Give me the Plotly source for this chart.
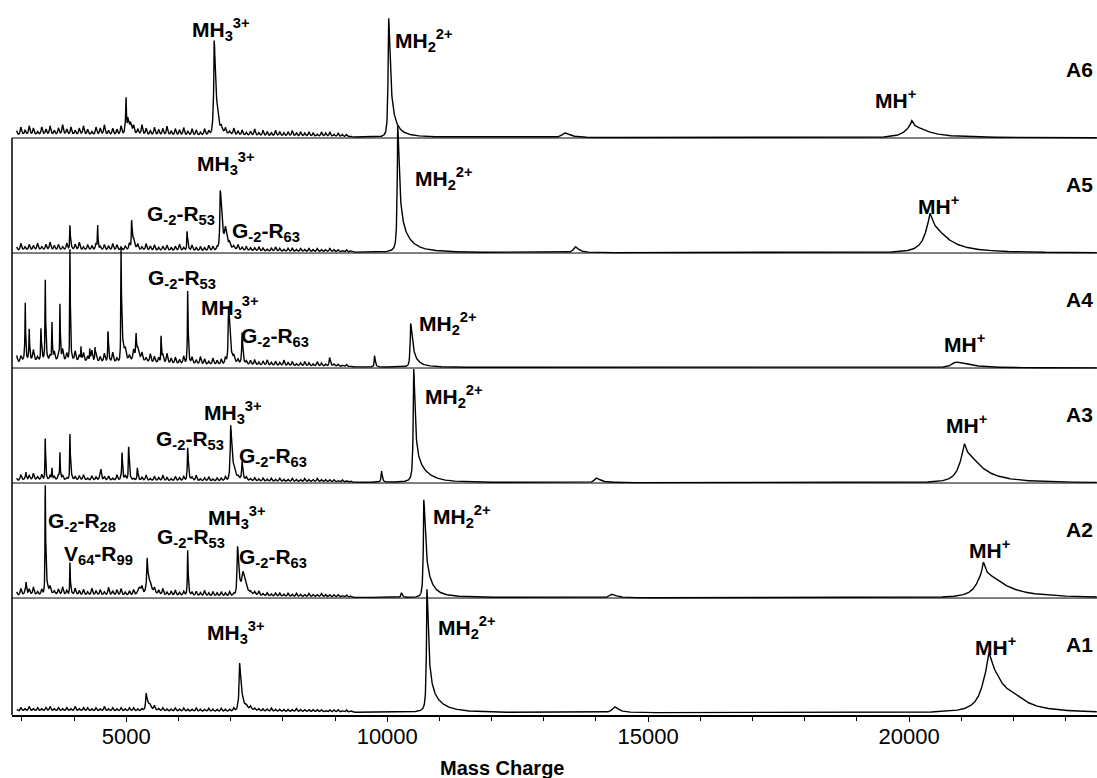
import numpy as np
import plotly.graph_objects as go

# ---------------- data ----------------
labels = ["A1", "A2", "A3", "A4", "A5", "A6"]

# peaks: (centre m/z, height in panel units, left HWHM, right HWHM)
# a component with a tiny left width is the high-mass tail of the peak at that centre
peaks_A1 = [(3000, 0.015, 100, 5000),
            (5380, 0.11, 10, 20), (5420, 0.05, 30, 60),
            (7170, 0.33, 14, 26), (7170, 0.09, 2, 100),
            (10760, 0.78, 14, 30), (10760, 0.27, 2, 110), (10900, 0.05, 120, 300),
            (14350, 0.05, 50, 100),
            (21530, 0.11, 25, 40), (21530, 0.40, 150, 300), (21980, 0.06, 150, 350)]
peaks_A2 = [(3000, 0.02, 100, 4000),
            (3080, 0.10, 8, 12), (3446, 0.86, 5, 8), (3446, 0.12, 2, 40),
            (3920, 0.27, 5, 8), (5250, 0.06, 20, 40), (5400, 0.26, 8, 14),
            (5430, 0.10, 30, 60), (6176, 0.35, 6, 10),
            (7130, 0.33, 12, 24), (7130, 0.08, 2, 100), (7240, 0.15, 20, 50),
            (10270, 0.04, 10, 20), (10700, 0.62, 14, 34), (10700, 0.23, 2, 140),
            (14300, 0.03, 50, 100),
            (21420, 0.10, 20, 40), (21420, 0.21, 150, 450)]
peaks_A3 = [(3000, 0.02, 100, 4000),
            (3076, 0.06, 6, 10), (3446, 0.37, 5, 8), (3575, 0.10, 5, 8),
            (3728, 0.23, 5, 8), (3920, 0.38, 5, 8), (4515, 0.07, 6, 10),
            (4918, 0.24, 6, 10), (5045, 0.27, 6, 10), (5211, 0.08, 6, 10),
            (6176, 0.27, 8, 15), (7000, 0.38, 12, 24), (7000, 0.10, 2, 80),
            (7219, 0.12, 8, 15), (9890, 0.10, 10, 15),
            (10506, 0.72, 14, 28), (10506, 0.25, 2, 100), (10650, 0.06, 100, 250),
            (14000, 0.04, 40, 100),
            (21060, 0.08, 20, 30), (21060, 0.26, 120, 350)]
peaks_A4 = [(3000, 0.05, 100, 3000),
            (3063, 0.43, 5, 8), (3139, 0.22, 5, 8), (3364, 0.25, 5, 8),
            (3446, 0.69, 5, 8), (3575, 0.33, 5, 8), (3728, 0.48, 5, 8),
            (3920, 0.96, 5, 8), (4131, 0.12, 5, 8), (4300, 0.10, 5, 8),
            (4400, 0.10, 5, 8), (4649, 0.24, 5, 8), (4898, 0.70, 5, 8),
            (4898, 0.28, 2, 40), (5186, 0.18, 6, 10), (5195, 0.07, 40, 80),
            (5666, 0.24, 5, 8), (6176, 0.59, 6, 10),
            (6960, 0.40, 12, 24), (6960, 0.10, 2, 60), (7219, 0.22, 8, 15),
            (8894, 0.05, 10, 20), (9757, 0.10, 8, 15),
            (10448, 0.28, 14, 36), (10448, 0.10, 2, 120),
            (20900, 0.05, 100, 300)]
peaks_A5 = [(3000, 0.02, 100, 4000),
            (3920, 0.20, 5, 8), (4450, 0.22, 5, 8), (5102, 0.24, 6, 10),
            (5130, 0.06, 20, 40), (6164, 0.15, 6, 10),
            (6800, 0.40, 12, 26), (6800, 0.11, 2, 80), (6900, 0.12, 20, 40),
            (10200, 0.80, 14, 32), (10200, 0.27, 2, 100), (10300, 0.08, 80, 250),
            (13600, 0.05, 40, 80),
            (20400, 0.10, 30, 40), (20400, 0.24, 130, 350)]
peaks_A6 = [(3000, 0.02, 100, 5000),
            (4994, 0.30, 6, 10), (5030, 0.12, 10, 20), (5080, 0.08, 10, 30),
            (6684, 0.65, 12, 26), (6684, 0.16, 2, 70),
            (10025, 0.80, 14, 34), (10025, 0.24, 2, 120),
            (13400, 0.04, 60, 120),
            (20050, 0.05, 20, 30), (20050, 0.10, 150, 350)]

# baseline noise: heights (hundredths of a panel) on an 80-Da grid starting at 2900
noise_start, noise_step = 2900, 80
noise_A1 = [2, 3, 2, 4, 2, 3, 2, 3, 4, 2, 3, 2, 3, 2, 4, 2, 3, 3, 2, 3,
            2, 4, 2, 3, 2, 3, 2, 3, 3, 2, 2, 3, 2, 4, 2, 3, 2, 2, 3, 2,
            3, 2, 2, 3, 2, 2, 3, 2, 2, 3, 2, 2, 3, 2, 2, 2, 3, 2, 2, 2,
            2, 3, 2, 2, 2, 2, 2, 3, 2, 2, 2, 2, 2, 2, 1, 2, 2, 2, 1, 2, 1]
noise_A2 = [4, 6, 3, 5, 7, 3, 5, 4, 6, 3, 5, 7, 4, 3, 6, 4, 5, 3, 6, 4,
            5, 3, 7, 4, 5, 6, 3, 4, 5, 3, 6, 4, 3, 5, 4, 6, 3, 4, 5, 3,
            4, 5, 3, 4, 3, 5, 3, 4, 3, 4, 3, 4, 2, 3, 4, 3, 2, 3, 4, 2,
            3, 2, 3, 3, 2, 3, 2, 3, 2, 2, 3, 2, 2, 3, 2, 2, 2, 2, 1, 2, 1]
noise_A3 = [3, 5, 2, 4, 6, 3, 5, 2, 4, 3, 5, 4, 2, 6, 3, 4, 5, 2, 4, 3,
            6, 3, 4, 2, 5, 3, 4, 6, 2, 4, 3, 5, 2, 4, 3, 5, 3, 2, 4, 3,
            4, 2, 3, 5, 2, 3, 4, 2, 3, 3, 4, 2, 3, 2, 4, 3, 2, 3, 2, 3,
            2, 3, 2, 3, 2, 2, 3, 2, 2, 3, 2, 2, 3, 2, 2, 2, 2, 1, 2, 1, 1]
noise_A4 = [8, 5, 9, 6, 10, 4, 7, 9, 5, 8, 6, 10, 7, 4, 9, 6, 8, 5, 10, 7,
            5, 8, 6, 9, 4, 7, 8, 5, 9, 6, 7, 4, 8, 6, 5, 7, 9, 5, 6, 4,
            7, 5, 6, 4, 7, 5, 3, 6, 4, 5, 6, 3, 5, 4, 6, 3, 4, 5, 3, 4,
            5, 3, 4, 3, 5, 3, 4, 2, 3, 4, 3, 2, 4, 3, 2, 3, 2, 2, 1, 2, 1]
noise_A5 = [4, 6, 3, 5, 4, 6, 3, 5, 7, 4, 5, 3, 6, 4, 5, 7, 3, 5, 4, 6,
            3, 5, 4, 6, 5, 3, 4, 6, 4, 5, 3, 6, 4, 5, 3, 4, 5, 3, 4, 6,
            3, 4, 5, 3, 4, 3, 5, 4, 3, 4, 3, 4, 3, 5, 3, 4, 3, 3, 4, 3,
            2, 3, 4, 3, 2, 3, 3, 2, 3, 2, 3, 2, 3, 2, 2, 3, 2, 2, 1, 2, 1]
noise_A6 = [5, 7, 4, 8, 6, 3, 7, 5, 8, 4, 6, 9, 5, 7, 4, 6, 8, 5, 3, 7,
            6, 9, 4, 6, 5, 8, 6, 4, 7, 5, 9, 6, 4, 7, 5, 6, 8, 4, 6, 5,
            7, 4, 6, 5, 3, 6, 4, 5, 7, 4, 5, 3, 6, 4, 5, 3, 4, 6, 3, 5,
            4, 3, 5, 4, 3, 4, 5, 3, 4, 3, 4, 3, 2, 4, 3, 4, 2, 3, 2, 2, 1]

all_peaks = [peaks_A1, peaks_A2, peaks_A3, peaks_A4, peaks_A5, peaks_A6]
all_noise = [noise_A1, noise_A2, noise_A3, noise_A4, noise_A5, noise_A6]

# annotation labels: (panel index, text, m/z of label centre, height above own baseline)
MH3 = "MH<sub>3</sub><sup>3+</sup>"
MH2 = "MH<sub>2</sub><sup>2+</sup>"
MH1 = "MH<sup>+</sup>"
G53 = "G<sub>-2</sub>-R<sub>53</sub>"
G63 = "G<sub>-2</sub>-R<sub>63</sub>"
G28 = "G<sub>-2</sub>-R<sub>28</sub>"
V64 = "V<sub>64</sub>-R<sub>99</sub>"
peak_labels = [
    (5, MH3, 6822, 0.94), (5, MH2, 10697, 0.85), (5, MH1, 19731, 0.34),
    (4, MH3, 6918, 0.78), (4, G53, 6055, 0.33), (4, G63, 7685, 0.18),
    (4, MH2, 11080, 0.65), (4, MH1, 20555, 0.42),
    (3, G53, 6074, 0.77), (3, MH3, 6995, 0.53), (3, G63, 7858, 0.27),
    (3, MH2, 11157, 0.39), (3, MH1, 21054, 0.22),
    (2, MH3, 7052, 0.61), (2, G53, 6228, 0.37), (2, G63, 7819, 0.23),
    (2, MH2, 11272, 0.75), (2, MH1, 21092, 0.51),
    (1, G28, 4156, 0.66), (1, V64, 4463, 0.37), (1, G53, 6247, 0.52),
    (1, MH3, 7129, 0.70), (1, G63, 7819, 0.35), (1, MH2, 11425, 0.71),
    (1, MH1, 21533, 0.43),
    (0, MH3, 7110, 0.70), (0, MH2, 11521, 0.74), (0, MH1, 21648, 0.58),
]

x_ticks = [5000, 10000, 15000, 20000]
x_ticktext = ["5000", "10000", "15000", "20000"]
x_title = "Mass Charge"

# ---------------- build spectra ----------------
mz = np.arange(2900, 23600, 4.0)


def spectrum(peaks, noise):
    y = np.zeros_like(mz)
    spikes = list(peaks) + [(noise_start + k * noise_step, h / 100.0, 16, 16)
                            for k, h in enumerate(noise)]
    for c, h, wl, wr in spikes:
        w = np.where(mz < c, wl, wr)
        y += h / (1.0 + ((mz - c) / w) ** 2)
    return y


fig = go.Figure()
for i, (pk, nz) in enumerate(zip(all_peaks, all_noise)):
    fig.add_trace(go.Scatter(x=mz, y=spectrum(pk, nz) + i, mode="lines",
                             line=dict(color="black", width=1.4),
                             showlegend=False, hoverinfo="skip"))

FONT = "Liberation Sans, Arial, sans-serif"
ann = []
for i, txt, x, dy in peak_labels:
    ann.append(dict(x=x, y=i + dy, text="<b>" + txt + "</b>", showarrow=False,
                    xref="x", yref="y", font=dict(family=FONT, size=21, color="black")))
for i, lab in enumerate(labels):
    ann.append(dict(x=0.9985, xref="paper", xanchor="right", y=i + 0.6, yref="y",
                    text="<b>" + lab + "</b>", showarrow=False,
                    font=dict(family=FONT, size=21, color="black")))
ann.append(dict(x=0.4525, xref="paper", y=-0.074, yref="paper", yanchor="middle",
                text="<b>" + x_title + "</b>", showarrow=False,
                font=dict(family=FONT, size=20, color="black")))

# panel frames: left edge and the baseline of every panel
fig.add_shape(type="line", xref="paper", x0=0, x1=0, yref="y", y0=-0.017, y1=len(labels) - 1,
              line=dict(color="black", width=1.5))
for i in range(1, len(labels)):
    fig.add_shape(type="line", xref="paper", x0=0, x1=1, yref="y", y0=i, y1=i,
                  line=dict(color="black", width=1), layer="below")

fig.update_layout(
    width=1097, height=778,
    margin=dict(l=12, r=0, t=0, b=63),
    paper_bgcolor="white", plot_bgcolor="white",
    annotations=ann,
    xaxis=dict(range=[2810, 23600], tickvals=x_ticks, ticktext=x_ticktext,
               ticks="outside", ticklen=5, ticklabelstandoff=-4,
               tickcolor="black", showline=True, linecolor="black", linewidth=1.5,
               showgrid=False, zeroline=False,
               tickfont=dict(family=FONT, size=22, color="black"),
               minor=dict(dtick=1000, tick0=0, ticks="outside", ticklen=4, tickcolor="black")),
    yaxis=dict(range=[-0.017, 6.2], visible=False, showgrid=False, zeroline=False),
)

fig.write_html("out.html", config={"displayModeBar": False},
               post_script="document.body.style.margin='0';")
